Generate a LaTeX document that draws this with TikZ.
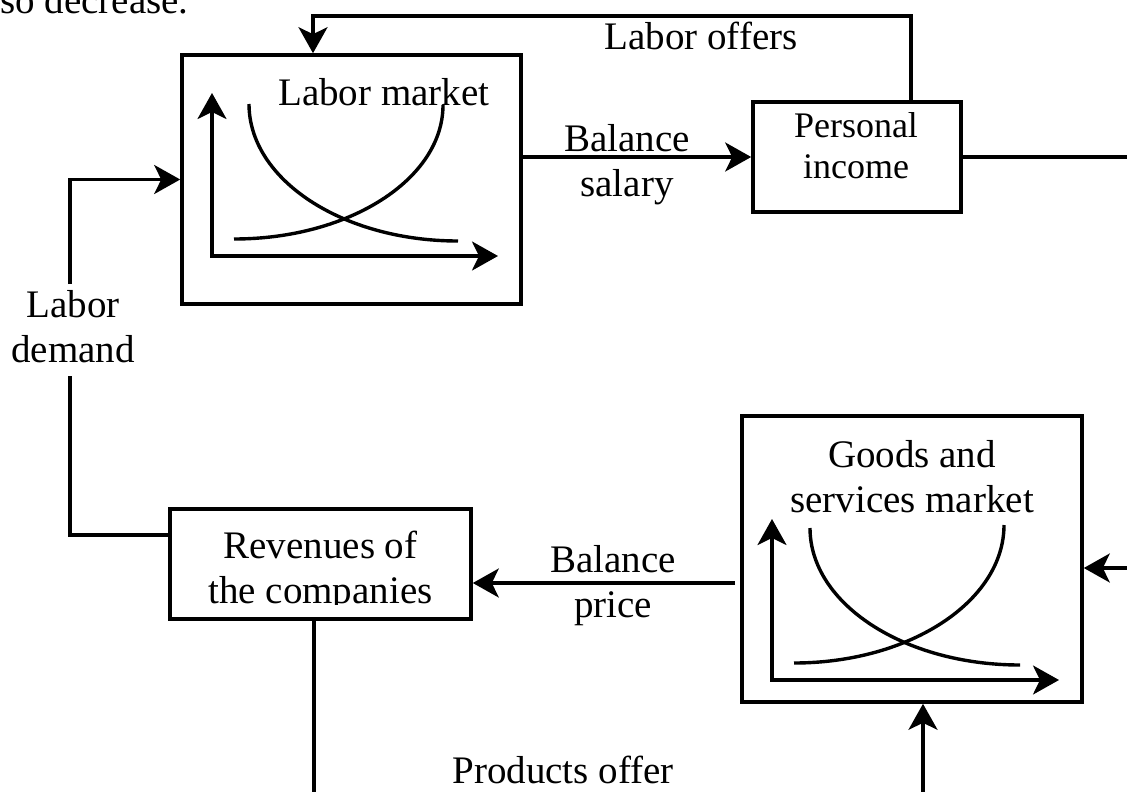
\documentclass[tikz,border=0pt]{standalone}
\usepackage{fontspec}
\setmainfont{Liberation Serif}
\usetikzlibrary{arrows.meta}
\begin{document}
\begin{tikzpicture}[x=1pt,y=-1pt,
  box/.style={draw, line width=3.6pt, rectangle, inner sep=0pt},
  conn/.style={line width=3.2pt},
  arr/.style={conn, -{Stealth[length=26pt,width=29pt,inset=7pt]}},
  axisarr/.style={line width=3.2pt, {Stealth[length=26pt,width=29pt,inset=7pt]}-{Stealth[length=26pt,width=29pt,inset=7pt]}},
  lbl/.style={font=\fontsize{39}{45}\selectfont, inner sep=0pt, align=center},
  curve/.style={line width=3.4pt}]
\useasboundingbox (0,0) rectangle (1127,792);

% boxes
\node[box, minimum width=339pt, minimum height=249pt] (lm) at (351.5,179.5) {};
\node[box, minimum width=208pt, minimum height=110pt] (pi) at (857,157) {};
\node[box, minimum width=301pt, minimum height=110pt] (rev) at (320.5,564) {};
\node[box, minimum width=340pt, minimum height=286pt] (gs) at (912,559) {};

% labels (anchor base = baseline of the last line)
\node[lbl, anchor=base west] (sd) at (0,14) {so decrease.};
\node[lbl, anchor=base] (lo) at (701,49) {Labor offers};
\node[lbl, anchor=base west] (lmt) at (278,106) {Labor market};
\node[lbl, anchor=base] (bs) at (627,196) {Balance\\salary};
\node[lbl, anchor=base, font=\fontsize{36}{41}\selectfont] (pit) at (856,178) {Personal\\income};
\node[lbl, anchor=base] (ldt) at (73,362) {Labor\\demand};
\node[lbl, anchor=base] (gst) at (912,512) {Goods and\\services market};
\node[lbl, anchor=base] (bp) at (613,617) {Balance\\price};
\begin{scope}
\clip (170,509) rectangle (471,604);
\node[lbl, anchor=base] (revt) at (320.5,603) {Revenues of\\the companies};
\end{scope}
\node[lbl, anchor=base] (po) at (563,783) {Products offer};

% coordinates for free ends
\coordinate (tl) at (313,16);
\coordinate (tr) at (911,16);
\coordinate (pr) at (1127,157);
\coordinate (gr) at (1127,568);
\coordinate (gb) at (923,792);
\coordinate (rb) at (314,792);
\coordinate (bpy) at (0,583);
\coordinate (ly) at (0,535);
\coordinate (ldb) at (70,376);
\coordinate (ldtop) at (70,284);

% connectors
\draw[arr] (pi.north -| tr) -- (tr) -- (tl) -- (lm.north -| tl);
\draw[arr] (lm.east |- pi.west) -- (pi.west);
\draw[conn] (pi.east) -- (pr);
\draw[arr] (gr) -- (gr -| gs.east);
\draw[arr] (gb) -- (gb |- gs.south);
\draw[conn] (rb |- rev.south) -- (rb);
\draw[arr, shorten <=5pt] (gs.west |- bpy) -- (rev.east |- bpy);
\draw[conn] (rev.west |- ly) -| (ldb);
\draw[arr] (ldtop) |- (lm.west);

% labor market chart
\draw[axisarr] (212,93) -- (212,256) -- (498,256);
\draw[curve] (249,104) .. controls (249,179.7) and (342.6,241) .. (458,241);
\draw[curve] (234,239) .. controls (349.4,239) and (443,179) .. (443,105);

% goods and services chart
\draw[axisarr] (772,519) -- (772,680) -- (1059,680);
\draw[curve] (810,528) .. controls (810,603.7) and (904,665) .. (1020,665);
\draw[curve] (794,663) .. controls (910,663) and (1004,601) .. (1004,525);
\end{tikzpicture}
\end{document}
